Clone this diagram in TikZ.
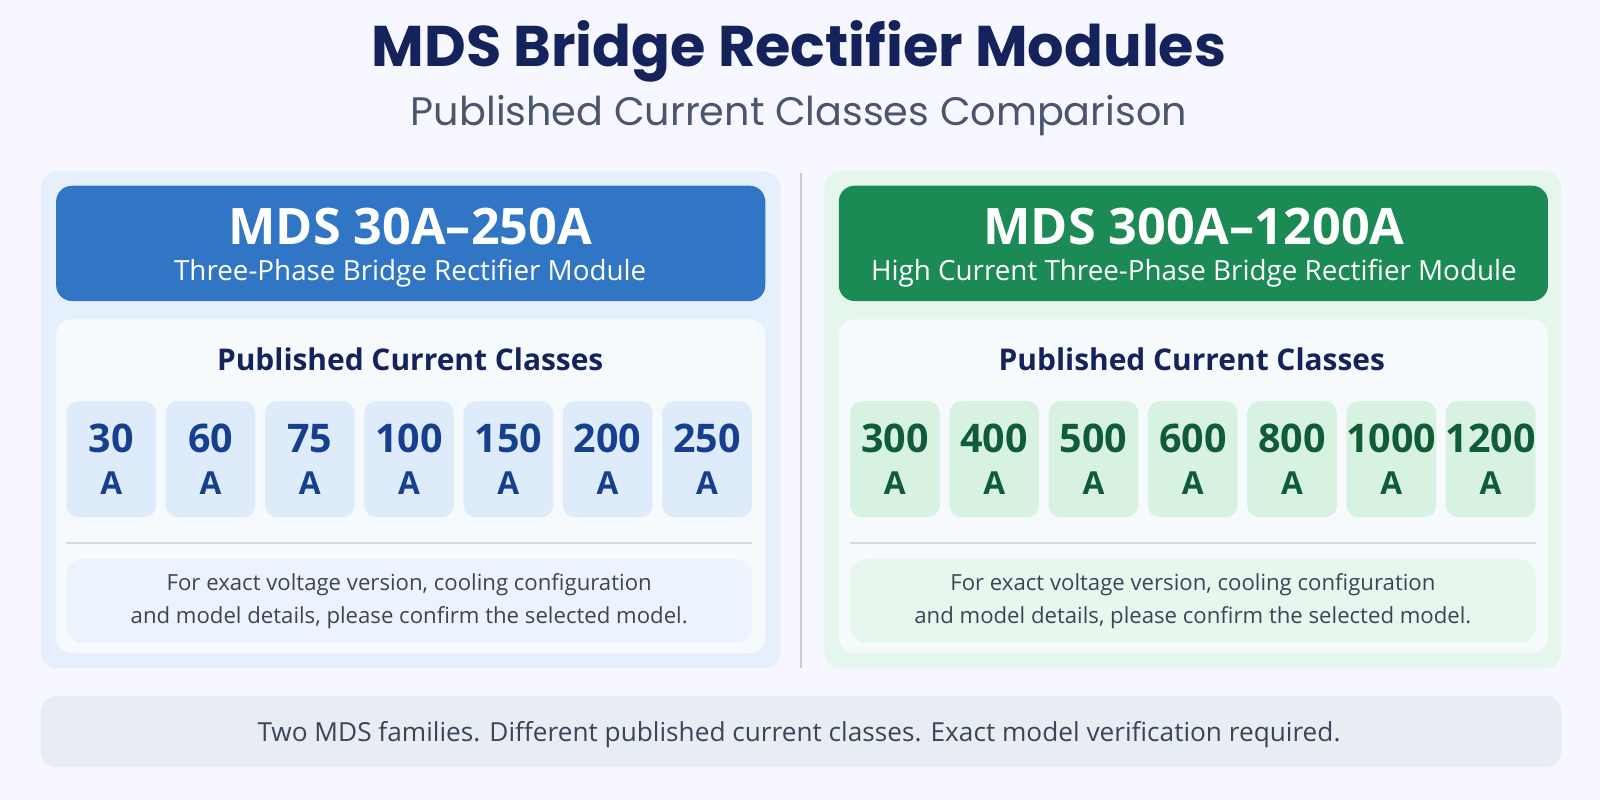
\documentclass[tikz,border=0pt]{standalone}
\usepackage{fontspec}
\setmainfont{Open Sans}
\newfontfamily\titlefont{Poppins}
\usetikzlibrary{positioning}
\definecolor{navy}{HTML}{14235C}
\definecolor{greytxt}{HTML}{4A566E}
\definecolor{bluehead}{HTML}{3076C4}
\definecolor{bluepanel}{HTML}{E6F0FC}
\definecolor{bluetile}{HTML}{DDEBFB}
\definecolor{bluenum}{HTML}{163F8E}
\definecolor{greenhead}{HTML}{1C8A55}
\definecolor{greenpanel}{HTML}{E5F6EC}
\definecolor{greentile}{HTML}{D8F2E2}
\definecolor{greennum}{HTML}{0F5C36}
\definecolor{innerbg}{HTML}{F7FAFD}
\definecolor{footbg}{HTML}{E8ECF3}
\tikzset{
  panel/.style={rounded corners=4.5pt,inner sep=0pt},
  tile/.style={rounded corners=3.5pt,minimum width=88\pxu,minimum height=114\pxu,inner sep=0pt,align=center,font=\fontsize{11.2}{13}\selectfont\bfseries},
}
\newcommand{\pxu}{*0.0102cm}
\begin{document}
\begin{tikzpicture}[x=0.0102cm,y=-0.0102cm]
\fill[white!97!blue] (0,0) rectangle (1568,784);
% titles
\node[font=\titlefont\fontsize{16.3}{20}\selectfont\bfseries,text=navy] (title) at (783,50) {MDS Bridge Rectifier Modules};
\node[font=\titlefont\fontsize{11.3}{14}\selectfont,text=greytxt] (subtitle) at (783,113) {Published Current Classes Comparison};
% divider
\draw[gray!40,line width=0.6pt] (785,170) -- (785,655);
% left family
\fill[bluepanel,panel] (40,168) rectangle (765,655);
\fill[bluehead,panel] (55,182) rectangle (750,295);
\node[text=white,font=\fontsize{14.3}{17}\selectfont\bfseries] (lhead) at (402,222) {MDS 30A–250A};
\node[text=white,font=\fontsize{7.9}{10}\selectfont] (lsub) at (402,268) {Three-Phase Bridge Rectifier Module};
\fill[innerbg,panel] (55,313) rectangle (750,640);
\node[text=navy,font=\fontsize{8.5}{11}\selectfont\bfseries] (lpub) at (402,352) {Published Current Classes};
\foreach \v [count=\i] in {30,60,75,100,150,200,250}
  \node[tile,fill=bluetile,text=bluenum] (l\i) at ({109+(\i-1)*97.3},450) {\v\\[-1pt]{\fontsize{9}{11}\selectfont A}};
\draw[gray!30,line width=0.6pt] (65,532) -- (737,532);
\fill[bluetile!60,panel] (65,548) rectangle (737,630);
\node[text=greytxt!80!black,font=\fontsize{6.3}{9.4}\selectfont,align=center] (lnote) at (401,589) {For exact voltage version, cooling configuration\\and model details, please confirm the selected model.};
% right family
\fill[greenpanel,panel] (808,168) rectangle (1530,655);
\fill[greenhead,panel] (822,182) rectangle (1517,295);
\node[text=white,font=\fontsize{14.3}{17}\selectfont\bfseries] (rhead) at (1170,222) {MDS 300A–1200A};
\node[text=white,font=\fontsize{7.9}{10}\selectfont] (rsub) at (1170,268) {High Current Three-Phase Bridge Rectifier Module};
\fill[innerbg,panel] (822,313) rectangle (1517,640);
\node[text=navy,font=\fontsize{8.5}{11}\selectfont\bfseries] (rpub) at (1168,352) {Published Current Classes};
\foreach \v [count=\i] in {300,400,500,600,800,1000,1200}
  \node[tile,fill=greentile,text=greennum] (r\i) at ({877+(\i-1)*97.3},450) {\v\\[-1pt]{\fontsize{9}{11}\selectfont A}};
\draw[gray!30,line width=0.6pt] (833,532) -- (1505,532);
\fill[greentile!60,panel] (833,548) rectangle (1505,630);
\node[text=greytxt!80!black,font=\fontsize{6.3}{9.4}\selectfont,align=center] (rnote) at (1169,589) {For exact voltage version, cooling configuration\\and model details, please confirm the selected model.};
% footer
\fill[footbg,panel] (40,682) rectangle (1530,752);
\node[text=greytxt!80!black,font=\fontsize{7.45}{10}\selectfont] (foot) at (783,720) {Two MDS families. Different published current classes. Exact model verification required.};
\pgfresetboundingbox
\useasboundingbox (0,0) rectangle (1568,784);
\end{tikzpicture}
\end{document}
